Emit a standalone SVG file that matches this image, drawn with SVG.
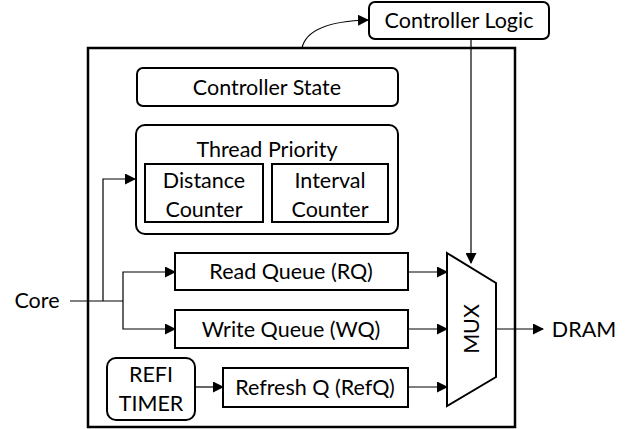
<svg xmlns="http://www.w3.org/2000/svg" width="631" height="429" viewBox="0 0 631 429">
<style>
.box{fill:#fff;stroke:#000;stroke-width:2}
.t{font-family:Lato,"Liberation Sans",sans-serif;font-size:21.5px;fill:#000;text-anchor:middle}
.c{fill:none;stroke:#000;stroke-width:1.2}
</style>
<defs>
<marker id="ah" markerWidth="11" markerHeight="11" refX="10" refY="5.5" orient="auto" markerUnits="userSpaceOnUse">
<path d="M0,0 L11,5.5 L0,11 Z" fill="#000"/>
</marker>
</defs>
<rect width="631" height="429" fill="#fff"/>
<g id="controller">
<rect x="88" y="48" width="427" height="379" fill="#fff" stroke="#000" stroke-width="2.5"/>
</g>
<g id="controller-logic">
<rect class="box" x="369" y="2" width="180" height="37" rx="6"/>
<text class="t" x="459" y="28">Controller Logic</text>
</g>
<g id="controller-state">
<rect class="box" x="137" y="68" width="261" height="38" rx="6"/>
<text class="t" x="267" y="95">Controller State</text>
</g>
<g id="thread-priority">
<rect class="box" x="136" y="125" width="262" height="109" rx="9"/>
<text class="t" x="267" y="157">Thread Priority</text>
</g>
<g id="distance-counter">
<rect class="box" x="145" y="164" width="118" height="58"/>
<text class="t" x="204" y="188">Distance</text>
<text class="t" x="204" y="217">Counter</text>
</g>
<g id="interval-counter">
<rect class="box" x="272" y="164" width="116" height="58"/>
<text class="t" x="330" y="188">Interval</text>
<text class="t" x="330" y="217">Counter</text>
</g>
<g id="read-queue">
<rect class="box" x="175" y="253" width="233" height="37"/>
<text class="t" x="291" y="279">Read Queue (RQ)</text>
</g>
<g id="write-queue">
<rect class="box" x="175" y="310" width="233" height="38"/>
<text class="t" x="291" y="337">Write Queue (WQ)</text>
</g>
<g id="refi-timer">
<rect class="box" x="107" y="358" width="88" height="62" rx="9"/>
<text class="t" x="151" y="382">REFI</text>
<text class="t" x="151" y="411">TIMER</text>
</g>
<g id="refresh-q">
<rect class="box" x="223" y="368" width="185" height="39"/>
<text class="t" x="315" y="395">Refresh Q (RefQ)</text>
</g>
<g id="mux">
<path class="box" d="M447,253 L496,283 L496,377 L447,406 Z"/>
<text class="t" transform="translate(479,329) rotate(-90)">MUX</text>
</g>
<g id="core">
<text class="t" x="37" y="308">Core</text>
</g>
<g id="dram">
<text class="t" x="584" y="337">DRAM</text>
</g>
<g id="connectors">
<path class="c" d="M302,48 C306,30 330,21 368,20" marker-end="url(#ah)"/>
<path class="c" d="M471,39 L471,263" marker-end="url(#ah)"/>
<path class="c" d="M70,301 L123,301"/>
<path class="c" d="M103,301 L103,179 L135,179" marker-end="url(#ah)"/>
<path class="c" d="M123,301 L123,272 L175,272" marker-end="url(#ah)"/>
<path class="c" d="M123,301 L123,329 L175,329" marker-end="url(#ah)"/>
<path class="c" d="M408,272 L447,272" marker-end="url(#ah)"/>
<path class="c" d="M408,329 L447,329" marker-end="url(#ah)"/>
<path class="c" d="M408,387 L447,387" marker-end="url(#ah)"/>
<path class="c" d="M195,387 L223,387" marker-end="url(#ah)"/>
<path class="c" d="M496,329 L543,329" marker-end="url(#ah)"/>
</g>
</svg>
